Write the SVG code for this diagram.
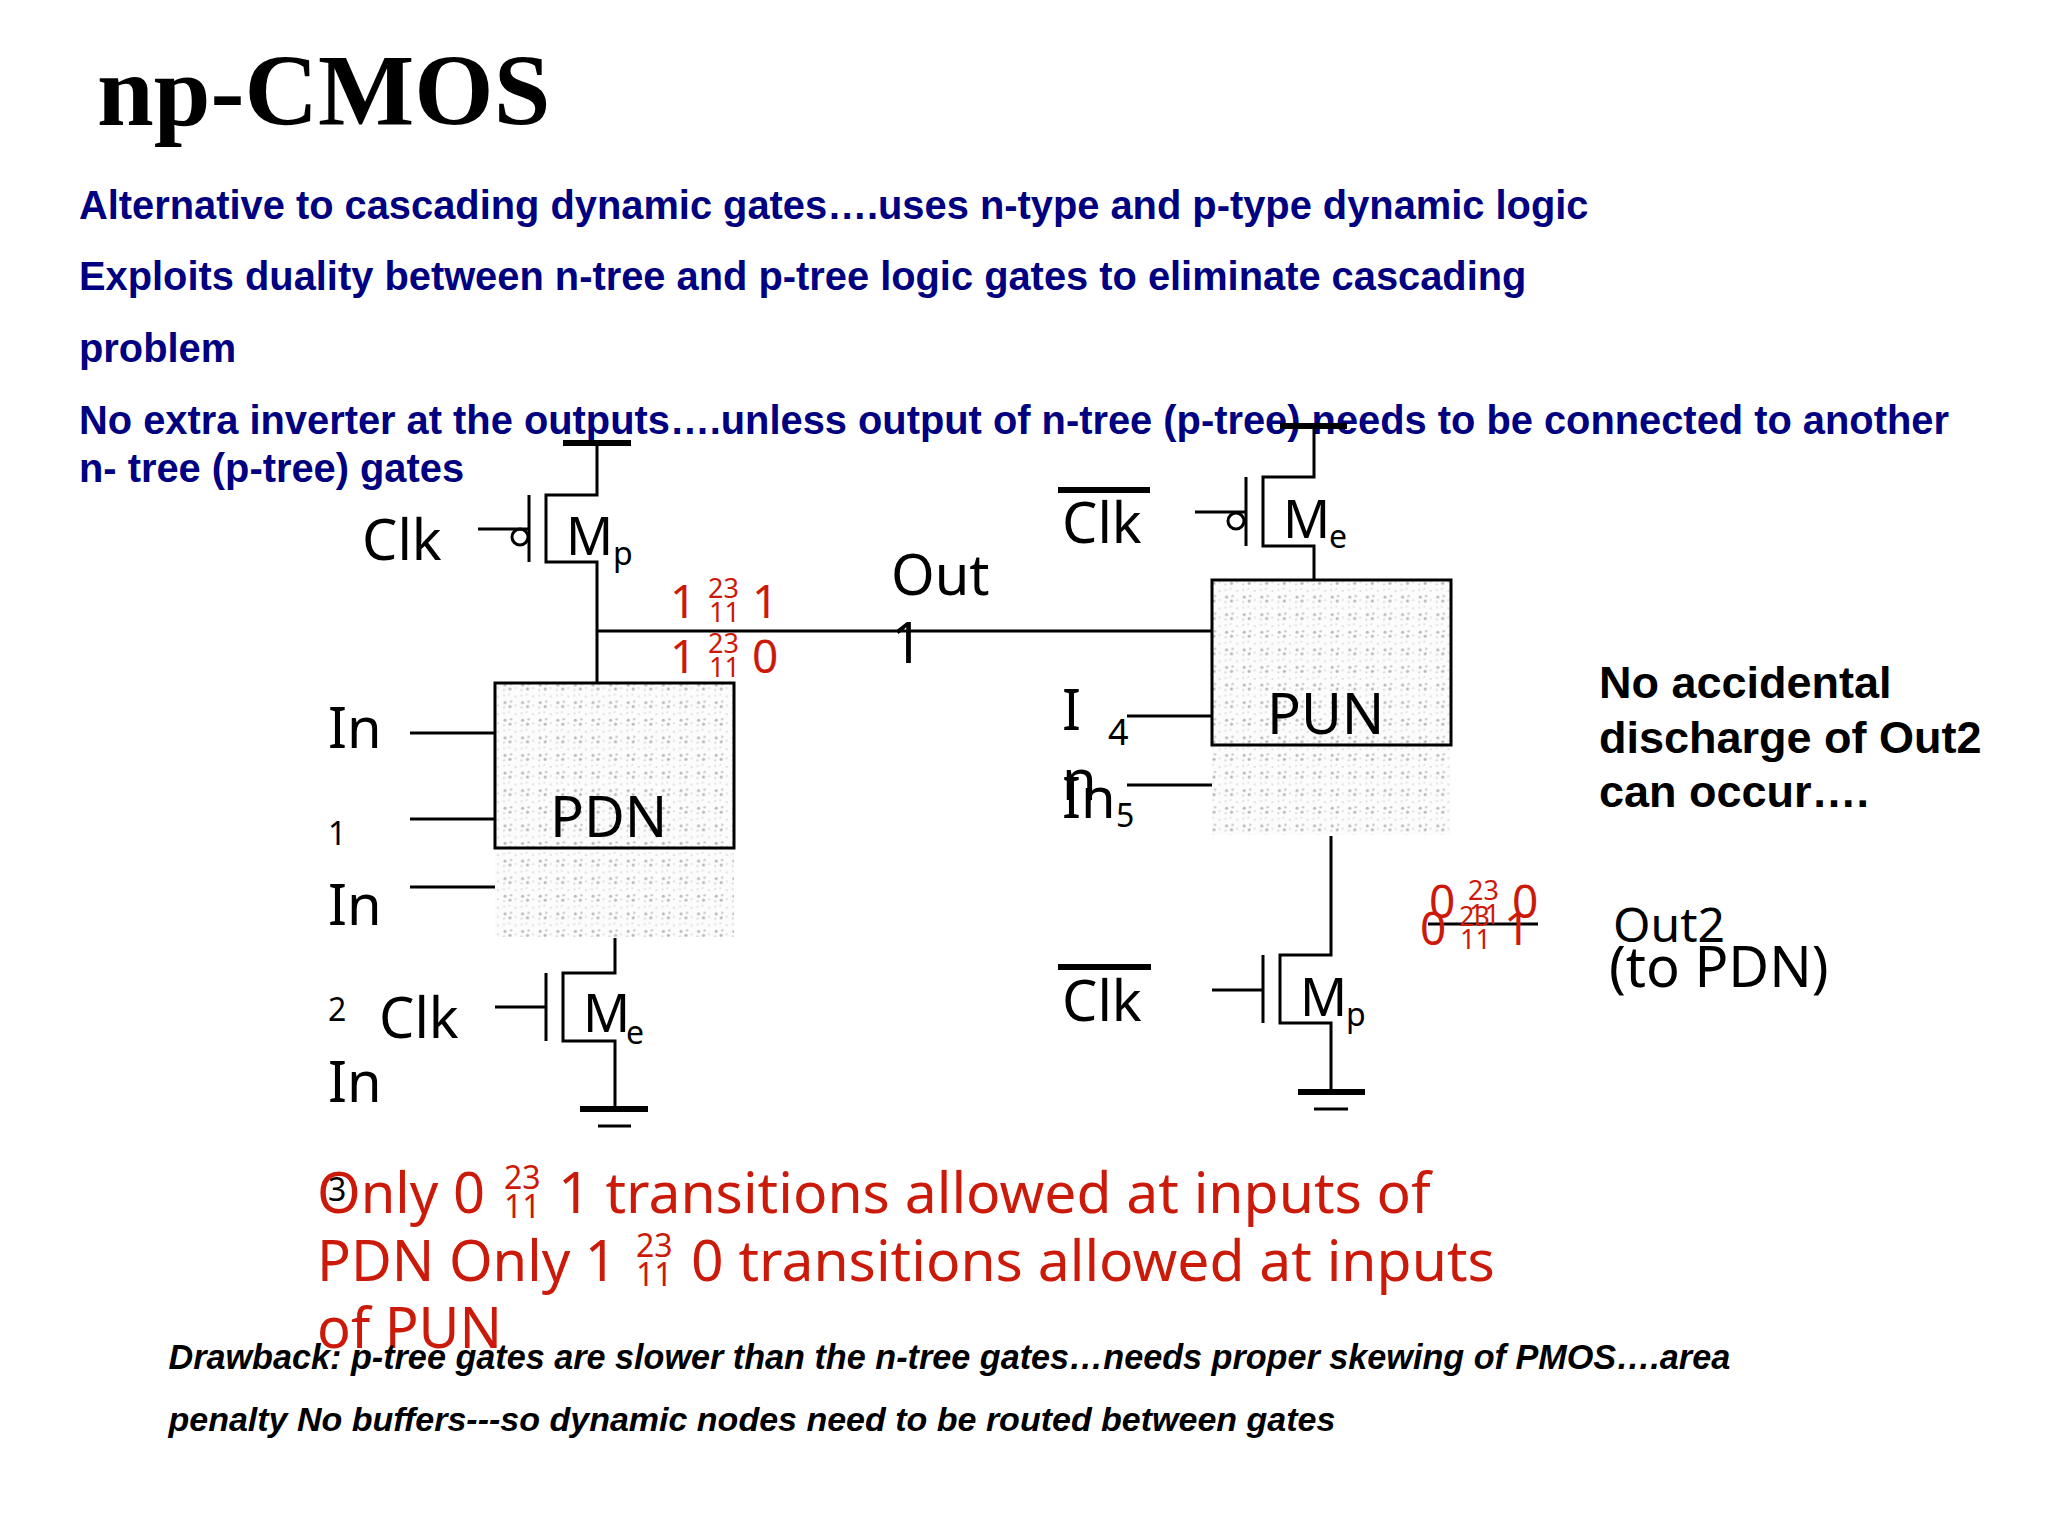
<svg xmlns="http://www.w3.org/2000/svg" width="2048" height="1536" viewBox="0 0 2048 1536">
<style>
.h{font-family:"Liberation Sans",Arial,sans-serif;font-weight:700;font-size:39.85px;fill:#000080}
.l{font-family:"Noto Sans","Open Sans",sans-serif;font-size:56px;fill:#000}
.m{font-family:"Noto Sans","Open Sans",sans-serif;font-size:52px;fill:#000}
.s{font-family:"Noto Sans","Open Sans",sans-serif;font-size:32px;fill:#000}
.r{font-family:"Noto Sans","Open Sans",sans-serif;font-size:57px;fill:#cc1a0a}
.r0{font-family:"Noto Sans","Open Sans",sans-serif;font-size:56px;fill:#cc1a0a}
.rs{font-family:"Noto Sans","Open Sans",sans-serif;font-size:27px;fill:#cc1a0a}
.rn{font-family:"Noto Sans","Open Sans",sans-serif;font-size:32px;fill:#cc1a0a}
.rm{font-family:"Noto Sans","Open Sans",sans-serif;font-size:46px;fill:#cc1a0a}
.b{font-family:"Liberation Sans",Arial,sans-serif;font-weight:700;font-size:45px;fill:#000}
.i{font-family:"Liberation Sans",Arial,sans-serif;font-weight:700;font-style:italic;font-size:34.2px;fill:#000}
.w{stroke:#000;stroke-width:3;fill:none}
.t{stroke:#000;stroke-width:6;fill:none}
.box{stroke:#000;stroke-width:3;fill:url(#dots)}
</style>
<defs>
<pattern id="dots" width="17.6" height="17.6" patternUnits="userSpaceOnUse" patternTransform="translate(495 850)">
<rect width="17.6" height="17.6" fill="#fcfcfc"/>
<circle cx="10" cy="11" r="1.5" fill="#b8b8b8"/>
<circle cx="16" cy="10" r="1.2" fill="#c8c8c8"/>
<circle cx="15" cy="15" r="1.5" fill="#b8b8b8"/>
<circle cx="9" cy="16" r="1.1" fill="#d4d4d4"/>
<circle cx="3" cy="5" r="1.1" fill="#dcdcdc"/>
<circle cx="3" cy="14" r="1.1" fill="#dcdcdc"/>
<circle cx="9" cy="4" r="1.1" fill="#e0e0e0"/>
<circle cx="14" cy="3" r="1.1" fill="#e0e0e0"/>
</pattern>
</defs>
<rect width="2048" height="1536" fill="#fff"/>
<text x="97" y="125" font-family="Liberation Serif,serif" font-weight="700" font-size="102">np-CMOS</text>
<g id="heading">
<text class="h" x="79" y="219">Alternative to cascading dynamic gates….uses n-type and p-type dynamic logic</text>
<text class="h" x="79" y="290">Exploits duality between n-tree and p-tree logic gates to eliminate cascading</text>
<text class="h" x="79" y="362">problem</text>
<text class="h" x="79" y="434">No extra inverter at the outputs….unless output of n-tree (p-tree) needs to be connected to another</text>
<text class="h" x="79" y="482">n- tree (p-tree) gates</text>
</g>
<g id="connectors">
<path class="t" d="M563 443H631M1280 426H1347M580 1109H648M1298 1092H1365M1058 490H1150M1058 967H1151"/>
<path class="w" d="M597 443V495H546V562H597V683M529 495V562M478 529H529"/>
<path class="w" d="M597 631H1212"/>
<path class="w" d="M410 733H495M410 819H495M410 887H495"/>
<path class="w" d="M615 938V973H563V1041H615V1109M546 973V1041M495 1007H546M598 1126H631"/>
<path class="w" d="M1314 426V477H1263V546H1314V580M1246 477V546M1195 512H1246"/>
<path class="w" d="M1127 716H1212M1127 785H1212"/>
<path class="w" d="M1331 836V955H1280V1023H1331V1092M1263 955V1023M1212 990H1263M1314 1109H1348"/>
<path class="w" d="M1428 924H1538"/>
<circle class="w" cx="520" cy="537" r="8"/>
<circle class="w" cx="1236" cy="521" r="8"/>
</g>
<g id="pdn">
<rect x="495" y="848" width="239" height="89" fill="url(#dots)"/>
<rect class="box" x="495" y="683" width="239" height="165"/>
<text class="l" x="550" y="837">PDN</text>
</g>
<g id="pun">
<rect x="1212" y="745" width="239" height="90" fill="url(#dots)"/>
<rect class="box" x="1212" y="580" width="239" height="165"/>
<text class="l" x="1267" y="734">PUN</text>
</g>
<g id="labels-left">
<text class="l" x="328" y="748">In</text><text class="s" x="328" y="845">1</text>
<text class="l" x="328" y="925">In</text><text class="s" x="328" y="1021">2</text>
<text class="l" x="328" y="1102">In</text><text class="s" x="328" y="1201">3</text>
<text class="l" x="362" y="560">Clk</text>
<text class="l" x="379" y="1038">Clk</text>
</g>
<g id="transistor-labels">
<text class="m" x="566" y="555">M</text><text class="s" x="613" y="565">p</text>
<text class="m" x="583" y="1032">M</text><text class="s" x="626" y="1044">e</text>
<text class="m" x="1283" y="538">M</text><text class="s" x="1329" y="548">e</text>
<text class="m" x="1300" y="1016">M</text><text class="s" x="1346" y="1026">p</text>
</g>
<g id="labels-right">
<text class="l" x="1062" y="543">Clk</text>
<text class="l" x="1062" y="1021">Clk</text>
<text class="l" x="1062" y="730">I</text><text class="s" x="1108" y="745" style="font-size:36px">4</text>
<text class="l" x="1062" y="800">n</text>
<text class="l" x="1062" y="818">In</text><text class="s" x="1116" y="827">5</text>
<text class="l" x="891" y="595">Out</text>
<text class="l" x="891" y="663">1</text>
<text x="1613" y="942" font-family="Noto Sans,sans-serif" font-size="48">Out2</text>
<text class="l" x="1609" y="987">(to PDN)</text>
</g>
<g id="transition-marks">
<text class="rm" x="670" y="618">1</text><text class="rs" x="708" y="598">23</text><text class="rs" x="709" y="622">11</text><text class="rm" x="752" y="618">1</text>
<text class="rm" x="670" y="673">1</text><text class="rs" x="708" y="653">23</text><text class="rs" x="709" y="677">11</text><text class="rm" x="752" y="673">0</text>
<text class="rm" x="1429" y="918">0</text><text class="rs" x="1468" y="900">23</text><text class="rs" x="1469" y="924">11</text><text class="rm" x="1512" y="918">0</text>
<text class="rm" x="1420" y="945">0</text><text class="rs" x="1459" y="926">23</text><text class="rs" x="1460" y="949">11</text><text class="rm" x="1504" y="945">1</text>
</g>
<g id="transition-note">
<text class="r0" x="317" y="1213">Only 0</text><text class="rn" x="504" y="1189">23</text><text class="rn" x="504" y="1218">11</text><text class="r" x="558" y="1213">1 transitions allowed at inputs of</text>
<text class="r0" x="317" y="1281">PDN Only 1</text><text class="rn" x="636" y="1257">23</text><text class="rn" x="636" y="1286">11</text><text class="r" x="691" y="1281">0 transitions allowed at inputs</text>
<text class="r0" x="317" y="1348">of PUN</text>
</g>
<g id="side-note">
<text class="b" x="1599" y="698">No accidental</text>
<text class="b" x="1599" y="753">discharge of Out2</text>
<text class="b" x="1599" y="807">can occur….</text>
</g>
<g id="drawback">
<text class="i" x="168.5" y="1369">Drawback: p-tree gates are slower than the n-tree gates…needs proper skewing of PMOS….area</text>
<text class="i" x="168.5" y="1431" style="font-size:34px">penalty No buffers---so dynamic nodes need to be routed between gates</text>
</g>
</svg>
